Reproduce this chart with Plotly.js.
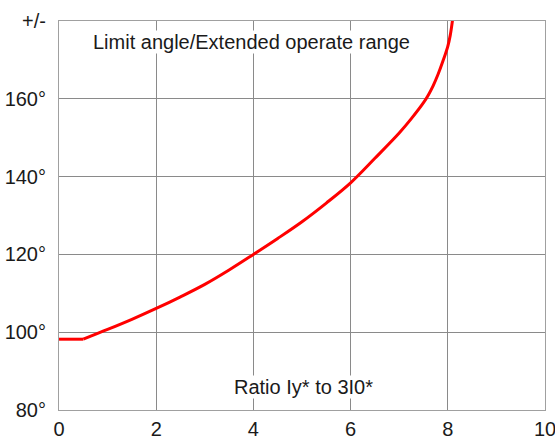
<!DOCTYPE html>
<html>
<head>
<meta charset="utf-8">
<script src="https://cdn.plot.ly/plotly-3.0.1.min.js"></script>
<style>html,body{margin:0;padding:0;background:#fff;}#chart{width:555px;height:439px;}</style>
</head>
<body>
<div id="chart"></div>
<script>
const ratio = [0, 0.5, 1, 1.5, 2, 2.5, 3, 3.5, 4, 4.5, 5, 5.5, 6, 6.5, 7, 7.25, 7.5, 7.6, 7.7, 7.8, 7.9, 8, 8.05, 8.1];
const angle = [98.2, 98.2, 100.7, 103.3, 106.1, 109.1, 112.3, 116.0, 120.0, 124.1, 128.4, 133.2, 138.4, 144.7, 151.2, 154.9, 159.0, 161.0, 163.4, 166.3, 169.7, 173.5, 176.3, 180.5];
const xTicks = [0, 2, 4, 6, 8, 10];
const yTicks = [80, 100, 120, 140, 160, 180];
const yTickText = ["80°", "100°", "120°", "140°", "160°", "+/-"];
const titleText = "Limit angle/Extended operate range";
const xLabelText = "Ratio Iy* to 3I0*";

const font = {family: "Liberation Sans, Arial, sans-serif", size: 20, color: "#1a1a1a"};
const lineStyle = {color: "#ff0000", width: 3};

Plotly.newPlot("chart", [
  {x: ratio.slice(0, 2), y: angle.slice(0, 2), type: "scatter", mode: "lines",
   line: lineStyle, hoverinfo: "skip"},
  {x: ratio.slice(1), y: angle.slice(1), type: "scatter", mode: "lines",
   line: Object.assign({shape: "spline", smoothing: 1}, lineStyle), hoverinfo: "skip"}
], {
  width: 555, height: 439,
  margin: {l: 59, r: 10, t: 21, b: 29},
  paper_bgcolor: "#fff", plot_bgcolor: "#fff",
  showlegend: false,
  font: font,
  xaxis: {
    range: [0, 10], tickvals: xTicks, ticktext: xTicks.map(String),
    showgrid: true, gridcolor: "#8a8a8a", gridwidth: 1, zeroline: false,
    showline: true, linecolor: "#a0a0a0", linewidth: 1, mirror: true,
    ticks: "outside", ticklen: 1, tickcolor: "rgba(0,0,0,0)",
    ticklabeloverflow: "allow",
    tickfont: font, fixedrange: true
  },
  yaxis: {
    range: [80, 180], tickvals: yTicks, ticktext: yTickText,
    showgrid: true, gridcolor: "#8a8a8a", gridwidth: 1, zeroline: false,
    showline: true, linecolor: "#a0a0a0", linewidth: 1, mirror: true,
    ticks: "outside", ticklen: 8, tickcolor: "rgba(0,0,0,0)",
    ticklabeloverflow: "allow",
    tickfont: font, fixedrange: true
  },
  annotations: [
    {x: 3.97, y: 174.6, xref: "x", yref: "y", text: titleText, showarrow: false,
     font: font, bgcolor: "#fff", borderpad: 0},
    {x: 5.04, y: 85.9, xref: "x", yref: "y", text: xLabelText, showarrow: false,
     font: font, bgcolor: "#fff", borderpad: 0}
  ]
}, {displayModeBar: false, staticPlot: true});
</script>
</body>
</html>
